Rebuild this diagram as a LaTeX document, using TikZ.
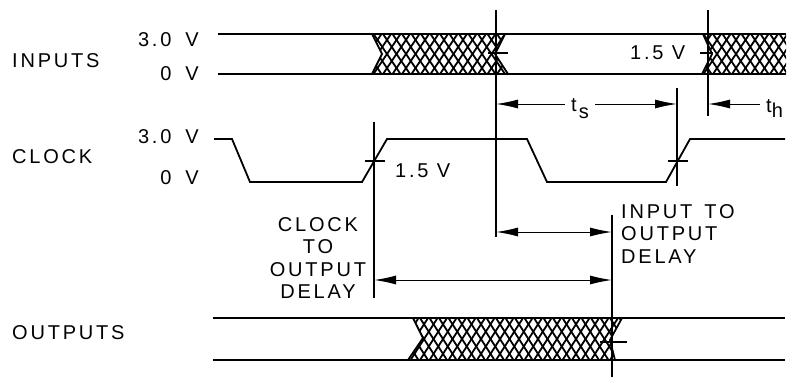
\documentclass[tikz,border=0pt]{standalone}
\usepackage{fontspec}
\setmainfont[LetterSpace=14]{Liberation Sans}
\usetikzlibrary{arrows.meta}
\tikzset{
  signal/.style={line width=1.8pt},
  marker/.style={line width=1.9pt},
  tick/.style={line width=1.1pt},
  blob/.tip={Latex[length=22pt,width=9pt,line width=1.2pt]},
  span/.style={line width=0.8pt,{blob}-{blob}},
  single/.style={line width=0.8pt,-{blob}},
  hatch/.style={line width=1.8pt},
  label/.style={inner sep=0pt,font=\fontsize{20}{20}\selectfont},
  stack/.style={label,align=center,font=\fontsize{20}{22.5}\selectfont}
}
\newcommand{\crosshatch}[4]{
  \foreach \hx in {#1,#2,...,#3} {
    \draw[hatch] (\hx,#4) -- ({\hx+27},{#4+40});
    \draw[hatch] ({\hx+27},#4) -- (\hx,{#4+40});
  }
}
\begin{document}
\begin{tikzpicture}[x=1pt,y=-1pt]
    \useasboundingbox (0,0) rectangle (789,377);
    % Left labels
    \node[label,anchor=west] (inputs) at (12,61) {INPUTS};
    \node[label,anchor=west] (clock) at (12,157) {CLOCK};
    \node[label,anchor=west] (outputs) at (12,333) {OUTPUTS};
    \node[label,anchor=east] (inhigh) at (199,40) {3.0\hspace{14pt}V};
    \node[label,anchor=east] (inlow) at (199,74) {0\hspace{14pt}V};
    \node[label,anchor=east] (clkhigh) at (199,137) {3.0\hspace{14pt}V};
    \node[label,anchor=east] (clklow) at (199,178) {0\hspace{14pt}V};
    % Input hatching
    \begin{scope}
      \clip (372,34) -- (382,54) -- (372,74) -- (508,74) -- (495,54) -- (505,34) -- cycle;
      \crosshatch{345}{354.5}{510}{34}
    \end{scope}
    \draw[hatch] (372,34) -- (382,54) -- (372,74) (508,74) -- (495,54) -- (505,34);
    \begin{scope}
      \clip (703,34) -- (712,54) -- (702,74) -- (786,74) -- (786,34) -- cycle;
      \crosshatch{675}{684.5}{790}{34}
    \end{scope}
    \draw[hatch] (703,34) -- (712,54) -- (702,74);
    % Inputs
    \draw[signal] (218,34) -- (786,34);
    \draw[signal] (218,74) -- (786,74);
    % Clock
    \draw[signal] (214,139) -- (232,139) -- (250,182) -- (362,182) -- (387,139) -- (527,139) -- (547,182) -- (666,182) -- (690,139) -- (785,139);
    % Output hatching
    \begin{scope}
      \clip (413,318) -- (423,338) -- (408,360) -- (615,360) -- (610,340) -- (622,318) -- cycle;
      \begin{scope}[yscale=1.05,shift={(0,-15.1)}]
        \crosshatch{382}{391.5}{625}{318}
      \end{scope}
    \end{scope}
    \draw[hatch] (413,318) -- (423,338) -- (408,360) (615,360) -- (610,340) -- (622,318);
    % Outputs
    \draw[signal] (213,318) -- (785,318);
    \draw[signal] (213,360) -- (785,360);
    % Reference points
    \coordinate (intop) at (496,10);
    \coordinate (inbot) at (496,237);
    \coordinate (holdtop) at (708,10);
    \coordinate (holdbot) at (708,116);
    \coordinate (setuptop) at (677,88);
    \coordinate (setupbot) at (677,186);
    \coordinate (clktop) at (374,122);
    \coordinate (clkbot) at (374,298);
    \coordinate (outtop) at (612,215);
    \coordinate (outbot) at (612,377);
    % Vertical markers
    \draw[marker] (intop) -- (inbot);
    \draw[marker] (holdtop) -- (holdbot);
    \draw[marker] (setuptop) -- (setupbot);
    \draw[marker] (clktop) -- (clkbot);
    \draw[marker] (outtop) -- (outbot);
    % Ticks at 1.5 V
    \draw[tick] (488,53) -- (508,53);
    \draw[tick] (700,53) -- (713,53);
    \draw[tick] (365,161) -- (385,161);
    \draw[tick] (668,161) -- (688,161);
    \draw[tick] (600,342) -- (627,342);
    % 1.5 V labels
    \node[label,anchor=west] (swinga) at (630,53) {1.5\ V};
    \node[label,anchor=west] (swingb) at (395,171) {1.5\ V};
    % Setup time
    \node[label,anchor=base west] (ts) at (571,112) {t\hspace{2pt}\raisebox{-7pt}{s}};
    \coordinate (tsleft) at (496,104);
    \coordinate (tsright) at (677,104);
    \draw[single] (ts.west |- tsleft) ++(-6,0) -- (tsleft);
    \draw[single] (ts.east |- tsright) ++(6,0) -- (tsright);
    % Hold time
    \node[label,anchor=base west] (th) at (766,113) {t\raisebox{-5pt}{h}};
    \coordinate (thleft) at (708,104);
    \draw[single] (th.west |- thleft) ++(-6,0) -- (thleft);
    % Input to output delay
    \coordinate (inleft) at (496,232);
    \coordinate (inright) at (612,232);
    \draw[span] (inleft) -- (inright);
    \node[stack,align=left,anchor=west] (intoout) at (621,234) {INPUT\hspace{12pt}TO\\OUTPUT\\DELAY};
    % Clock to output delay
    \coordinate (clkleft) at (374,280);
    \coordinate (clkright) at (612,280);
    \draw[span] (clkleft) -- (clkright);
    \node[stack] (clktoout) at (318,258) {CLOCK\\TO\\OUTPUT\\DELAY};
\end{tikzpicture}
\end{document}
